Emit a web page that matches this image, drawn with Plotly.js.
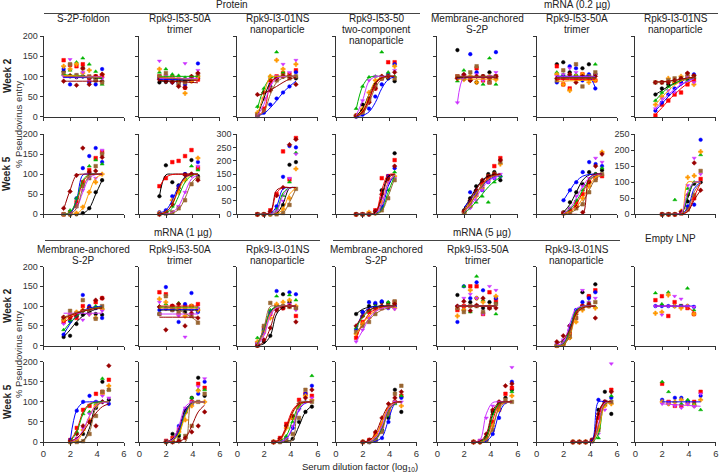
<!DOCTYPE html>
<html><head><meta charset="utf-8">
<script src="https://cdn.plot.ly/plotly-3.0.1.min.js"></script>
<style>html,body{margin:0;padding:0;background:#fff}</style>
</head><body><div id="chart" style="width:720px;height:474px"></div>
<script>
// ---- dilution grids (log10 serum dilution) ----
const D1 = [1.5, 1.98, 2.46, 2.93, 3.41, 3.89, 4.37];
const D2 = [2.0, 2.48, 2.95, 3.43, 3.91, 4.39, 4.87];
const D3 = [2.7, 3.18, 3.65, 4.13, 4.6, 5.08, 5.56];
const D5 = [2.0, 2.45, 2.9, 3.35, 3.8, 4.25, 4.7];

// series order: black, red, blue, green, orange, violet, brown, dark red
const SERIES_COLORS = ['#000000','#ff0000','#0000ff','#00b400','#ff9900','#cc33ff','#996633','#990000'];
const SERIES_SYMBOLS = ['circle','square','circle','triangle-up','cross','triangle-down','square','diamond'];

// ---- Row 1: Week 2 ----
const P_r1c1 = [[112,100,98,100,95,90,88],[140,128,125,130,97,100,100],[118,80,102,100,85,80,118],[105,115,135,145,130,112,80],[125,118,130,108,115,95,105],[100,142,98,110,88,95,95],[108,130,103,120,100,90,85],[88,102,78,120,80,100,105]];
const F_r1c1 = [[98,98,98,97,97,96,95],[100,100,100,100,100,100,100],[97,97,97,97,97,97,97],[104,103,102,101,99,97,95],[102,102,101,100,99,98,97],[99,99,99,99,99,99,99],[100,100,99,99,98,98,97],[88,88,88,88,88,88,88]];
const P_r1c2 = [[85,86,95,85,88,98,95],[100,95,98,92,72,90,92],[95,90,85,85,80,88,132],[110,118,105,102,97,100,100],[118,100,95,88,58,88,100],[138,102,95,78,132,95,115],[100,108,90,80,85,97,105],[92,88,85,75,72,100,108]];
const F_r1c2 = [[88,88,88,89,89,90,90],[96,95,94,93,92,91,90],[92,92,92,92,92,92,92],[100,100,100,100,100,100,100],[98,97,96,95,94,93,92],[95,95,95,95,95,95,95],[97,96,95,94,93,92,91],[90,89,88,87,86,85,84]];
const P_r1c3 = [[5,60,75,95,100,100,95],[2,20,90,100,108,105,115],[2,10,30,45,60,75,110],[25,70,100,160,110,100,100],[10,45,100,140,118,100,130],[3,45,80,100,130,110,140],[5,15,70,90,100,95,100],[55,60,65,95,100,100,80]];
const F_r1c3 = [[3,45,85,97,100,100,100],[2,15,80,98,100,100,100],[2,8,22,40,60,75,88],[20,70,95,100,100,100,100],[5,55,98,100,100,100,100],[3,30,75,95,99,100,100],[2,12,55,85,96,100,100],[52,58,66,75,85,93,98]];
const P_r1c4 = [[3,30,45,80,95,95,88],[2,15,40,70,95,135,135],[0,5,20,50,80,105,130],[20,75,98,100,160,110,100],[3,20,60,90,100,100,125],[2,40,90,100,100,100,115],[2,10,40,75,95,100,95],[2,15,35,70,100,100,110]];
const F_r1c4 = [[2,20,55,85,97,100,100],[1,10,40,80,96,100,100],[0,3,12,35,70,92,99],[18,75,97,100,100,100,100],[2,15,55,88,98,100,100],[3,40,88,99,100,100,100],[1,8,35,72,93,99,100],[1,12,45,82,97,100,100]];
const P_r1c5 = [[165,95,90,85,100,110,95],[100,100,95,120,90,85,100],[95,103,155,110,100,95,160],[88,115,100,100,80,145,80],[95,92,100,85,98,100,92],[35,100,98,105,90,100,110],[100,95,110,125,100,85,100],[95,105,90,100,100,95,100]];
const F_r1c5 = [[97,97,97,97,97,97,97],[100,100,100,100,100,100,100],[95,96,97,98,99,100,100],[99,99,99,99,99,99,99],[93,93,93,93,93,93,93],[35,98,98,98,98,98,98],[100,100,100,100,100,100,100],[98,98,98,98,98,98,98]];
const P_r1c6 = [[130,135,110,100,120,130,105],[125,80,70,95,105,100,90],[85,100,125,120,90,105,70],[110,105,100,105,95,95,130],[105,80,65,100,105,85,90],[100,105,120,110,95,100,105],[90,115,100,130,75,100,110],[95,95,105,85,100,95,100]];
const F_r1c6 = [[100,100,100,100,100,100,100],[92,92,92,92,92,92,92],[100,100,100,100,100,100,72],[97,97,97,97,97,97,97],[88,88,89,89,90,90,90],[99,99,99,99,99,99,99],[95,95,95,95,95,95,95],[96,96,96,96,96,96,96]];
const P_r1c7 = [[55,70,80,85,90,95,95],[3,30,40,55,60,80,90],[15,35,55,70,85,95,105],[40,60,75,85,95,90,100],[30,50,95,85,100,100,80],[20,45,65,60,80,100,85],[85,85,90,95,95,105,100],[85,85,85,90,95,108,102]];
const F_r1c7 = [[55,65,75,83,89,93,96],[5,22,40,55,70,82,92],[15,32,50,65,78,88,95],[40,58,72,82,90,95,98],[30,48,65,78,88,95,98],[20,38,55,68,80,88,94],[85,86,88,90,92,94,96],[86,87,88,90,93,96,98]];

// ---- Row 2: Week 5 ----
const P_r2c1 = [[0,0,0,3,15,55,85],[0,5,30,80,110,140,155],[0,0,40,115,145,165,130],[0,10,40,75,120,135,125],[0,0,3,18,55,80,100],[0,0,25,60,100,90,160],[0,0,20,70,90,120,150],[15,57,97,165,105,108,142]];
const F_r2c1 = [[0,0,0,2,15,50,85],[0,3,28,80,98,100,100],[0,2,35,98,100,100,100],[0,5,35,85,99,100,100],[0,0,2,15,55,90,99],[0,1,15,55,90,99,100],[0,1,15,65,95,100,100],[12,60,97,100,100,100,100]];
const P_r2c2 = [[45,122,80,72,100,135,95],[70,90,130,133,145,160,115],[5,10,45,70,100,100,130],[3,5,20,60,90,120,110],[3,5,35,55,85,100,140],[0,3,5,20,55,95,120],[0,2,5,15,35,75,90],[0,5,25,65,98,100,85]];
const F_r2c2 = [[45,98,100,100,100,100,100],[68,92,99,100,100,100,100],[3,10,35,70,92,99,100],[1,4,15,45,80,96,100],[2,6,25,60,88,98,100],[0,1,5,20,55,88,98],[0,0,3,12,40,78,95],[1,5,25,65,92,99,100]];
const P_r2c3 = [[0,0,0,5,35,185,195],[0,0,15,75,235,130,285],[0,0,5,30,140,255,250],[0,0,3,20,70,120,230],[0,0,0,5,20,60,170],[0,0,3,15,50,135,225],[0,0,0,0,5,35,95],[0,0,10,70,100,260,280]];
const F_r2c3 = [[0,0,0,3,40,97,100],[0,0,5,80,100,100,100],[0,0,2,30,95,100,100],[0,0,1,15,80,99,100],[0,0,0,2,20,75,98],[0,0,1,12,70,98,100],[0,0,0,0,5,45,95],[0,0,8,90,100,100,100]];
const P_r2c4 = [[0,0,0,3,60,85,152],[0,0,2,10,90,95,135],[0,0,0,3,20,95,115],[0,0,0,2,15,60,105],[0,0,5,3,30,80,95],[0,0,0,5,40,80,90],[0,0,0,3,10,40,85],[0,0,0,8,50,88,120]];
const F_r2c4 = [[0,0,0,5,45,95,100],[0,0,0,3,60,98,100],[0,0,0,1,15,70,99],[0,0,0,1,10,55,96],[0,0,0,2,25,80,98],[0,0,0,2,25,78,98],[0,0,0,0,8,45,90],[0,0,0,3,40,90,100]];
const P_r2c5 = [[10,40,70,80,100,105,85],[5,20,55,75,90,120,140],[5,55,60,60,80,90,95],[3,25,30,45,30,80,95],[5,20,45,65,85,100,125],[3,15,35,60,80,90,100],[5,30,50,70,95,100,130],[8,35,60,85,95,100,135]];
const F_r2c5 = [[15,40,65,85,95,99,100],[8,25,50,75,90,97,100],[18,35,55,72,85,93,97],[3,15,32,50,68,82,92],[8,28,52,74,88,96,99],[5,20,42,65,82,92,97],[6,25,50,72,88,96,99],[10,35,62,82,93,98,100]];
const P_r2c6 = [[5,30,55,75,105,100,110],[3,10,30,50,80,90,95],[35,60,80,105,130,125,120],[3,15,35,60,80,100,115],[3,8,20,40,70,95,155],[5,15,45,70,90,140,130],[3,5,15,25,55,85,100],[3,10,20,5,80,120,150]];
const F_r2c6 = [[5,25,55,85,98,100,100],[2,8,25,55,82,96,100],[35,60,82,95,99,100,100],[3,12,32,60,85,97,100],[2,6,18,40,70,92,100],[3,15,40,70,90,98,100],[1,4,12,30,60,88,98],[0,0,0,0,90,100,100]];
const P_r2c7 = [[0,0,0,5,40,95,100],[0,0,0,3,20,50,110],[0,0,0,5,25,30,232],[0,0,45,5,80,100,185],[0,0,0,10,115,120,195],[0,0,0,5,90,175,125],[0,0,0,3,15,60,135],[0,0,0,8,60,160,75]];
const F_r2c7 = [[0,0,0,3,50,98,100],[0,0,0,1,10,55,98],[0,0,0,2,20,80,100],[0,0,0,2,60,100,100],[0,0,0,0,100,100,100],[0,0,0,5,70,100,100],[0,0,0,1,15,70,98],[0,0,0,1,8,45,75]];

// ---- Row 3: Week 2 ----
const P_r3c1 = [[22,25,55,78,85,80,78],[60,75,70,100,95,110,120],[28,62,75,128,100,95,70],[40,65,85,90,95,100,95],[65,80,85,90,80,70,92],[55,78,82,65,78,95,88],[70,88,80,115,85,68,100],[72,70,75,88,95,115,120]];
const F_r3c1 = [[22,40,60,75,85,92,95],[58,70,80,88,93,96,98],[28,55,75,88,95,98,100],[38,58,74,85,92,96,98],[65,75,82,88,92,94,96],[82,82,82,82,82,82,82],[72,78,84,88,92,94,96],[70,76,82,87,91,94,96]];
const P_r3c2 = [[80,95,100,90,85,100,90],[135,130,100,95,100,100,105],[90,148,90,60,105,133,85],[100,105,98,108,95,100,95],[118,110,95,80,75,100,90],[110,92,95,75,22,88,95],[80,125,90,85,95,75,58],[98,40,100,105,50,82,70]];
const F_r3c2 = [[90,90,90,90,90,90,90],[100,100,100,100,100,100,100],[92,92,92,92,92,92,92],[97,97,97,97,97,97,97],[95,95,95,95,95,95,95],[80,80,80,80,80,80,80],[100,98,95,90,82,72,60],[72,72,72,72,72,72,72]];
const P_r3c3 = [[0,10,25,100,130,110,95],[5,45,80,100,95,100,75],[5,40,85,138,100,135,130],[20,40,90,125,100,128,115],[10,35,70,105,110,115,100],[5,30,80,95,100,105,90],[0,50,108,95,100,98,95],[0,15,45,90,95,100,60]];
const F_r3c3 = [[0,5,25,80,97,100,100],[3,40,85,98,100,100,100],[2,35,85,99,100,100,100],[5,42,88,99,100,100,100],[2,30,80,97,100,100,100],[1,25,75,96,100,100,100],[0,45,99,100,100,100,100],[0,10,45,90,99,100,100]];
const P_r3c4 = [[80,85,100,105,110,108,100],[20,60,85,95,95,100,110],[40,85,110,108,112,95,100],[45,75,90,100,100,110,108],[30,55,70,90,100,100,95],[10,40,70,90,95,95,92],[35,50,60,80,95,100,112],[50,75,90,95,100,98,105]];
const F_r3c4 = [[80,92,97,99,100,100,100],[20,55,80,92,97,99,100],[40,80,95,99,100,100,100],[45,72,88,96,99,100,100],[30,55,75,88,95,98,100],[10,38,68,86,94,98,99],[35,50,66,80,90,95,98],[50,75,90,96,99,100,100]];
const P_r3c5 = [[128,90,110,120,95,110,108],[90,100,150,150,80,135,115],[60,150,120,160,140,95,120],[100,150,85,175,115,100,80],[75,90,140,120,110,100,125],[100,120,130,120,80,150,140],[95,85,100,100,85,95,105],[100,112,88,102,120,95,95]];
const F_r3c5 = [[100,100,100,100,100,100,100],[100,100,100,100,100,100,100],[100,100,100,100,100,100,100],[100,100,100,100,100,100,100],[99,99,99,99,99,99,99],[100,100,100,100,100,100,100],[100,100,100,100,100,100,100],[100,100,100,100,100,100,100]];
const P_r3c6 = [[0,5,20,85,135,125,155],[0,5,30,70,100,125,140],[3,10,50,90,110,120,135],[2,8,40,80,100,110,98],[0,3,20,60,90,100,95],[5,15,40,85,140,110,120],[0,5,25,70,95,100,110],[10,25,50,80,100,105,70]];
const F_r3c6 = [[0,2,25,85,99,100,100],[0,3,35,85,98,100,100],[1,5,45,90,99,100,100],[0,4,40,88,99,100,100],[0,2,25,75,95,99,100],[2,8,55,93,100,100,100],[0,3,30,80,97,100,100],[5,15,40,80,95,99,100]];
const P_r3c7 = [null,[115,125,75,110,100,95,80],[100,100,100,100,100,100,98],[133,105,135,100,100,145,90],[82,85,128,100,95,100,80],[100,78,100,125,118,100,98],null,null];
const F_r3c7 = [null,[100,100,100,100,99,97,85],[100,100,100,100,100,100,100],null,null,[100,100,100,100,100,100,98],null,null];

// ---- Row 4: Week 5 ----
const P_r4c1 = [[0,3,20,50,85,150,105],[5,35,80,90,120,125,155],[5,78,100,115,100,100,95],[3,25,70,75,95,158,130],[0,5,30,55,90,120,140],[3,10,35,70,100,115,110],[0,0,2,20,65,125,130],[3,20,40,50,40,100,190]];
const F_r4c1 = [[0,0,3,35,90,100,100],[3,30,75,95,99,100,100],[5,80,98,100,100,100,100],[2,25,70,93,99,100,100],[0,3,25,65,92,99,100],[1,8,30,65,90,98,100],[0,0,2,25,85,100,100],[2,10,25,50,72,88,95]];
const P_r4c2 = [[0,20,15,75,110,160,115],[3,10,30,75,100,145,135],[2,5,40,80,95,120,150],[0,3,20,75,110,130,130],[0,5,25,55,90,128,100],[0,5,35,85,100,138,158],[0,0,5,15,40,100,120],[0,0,2,10,25,40,75]];
const F_r4c2 = [[0,8,35,80,97,100,100],[0,5,30,75,96,100,100],[0,4,28,75,96,100,100],[0,3,22,70,95,100,100],[0,3,20,65,94,99,100],[0,6,40,88,99,100,100],[0,0,0,0,100,100,100],[0,0,2,10,40,75,92]];
const P_r4c3 = [[0,0,3,8,50,75,88],[0,10,45,60,105,120,115],[0,3,10,35,90,120,140],[0,3,15,50,85,100,165],[0,5,35,60,90,115,105],[0,0,8,40,80,100,110],[0,0,5,20,60,130,100],[0,8,40,65,95,110,130]];
const F_r4c3 = [[0,0,1,8,40,75,90],[0,8,40,80,96,100,100],[0,1,8,35,80,97,100],[0,2,15,55,90,99,100],[0,5,30,72,94,99,100],[0,1,8,38,82,98,100],[0,0,0,5,100,100,100],[0,6,35,75,95,99,100]];
const P_r4c4 = [[0,0,5,30,60,130,75],[0,5,20,40,80,100,115],[0,0,3,10,50,100,110],[0,3,10,30,65,95,115],[0,3,15,45,80,100,90],[0,2,10,35,70,100,100],[0,0,5,25,70,120,140],[0,5,25,60,95,110,125]];
const F_r4c4 = [[0,1,8,35,80,97,100],[0,3,15,50,85,98,100],[0,0,2,12,55,95,100],[0,1,8,35,78,96,100],[0,2,15,50,85,98,100],[0,1,10,40,82,97,100],[0,0,5,30,75,96,100],[0,4,22,60,90,99,100]];
const P_r4c5 = [[0,0,5,75,95,110,130],[0,2,10,50,80,120,135],[0,0,3,20,60,100,150],[0,3,15,70,90,100,125],[0,0,5,40,80,100,115],[0,5,60,90,100,100,186],[0,0,5,30,90,105,100],[0,0,20,80,100,140,145]];
const F_r4c5 = [[0,1,15,70,96,100,100],[0,1,10,55,92,99,100],[0,0,2,20,70,97,100],[0,1,12,65,95,100,100],[0,0,5,40,85,99,100],[0,5,70,98,100,100,100],[0,0,5,35,85,99,100],[0,2,20,78,98,100,100]];
const P_r4c6 = [[0,0,0,3,80,125,70],[0,0,0,5,60,100,130],[0,0,0,5,105,100,110],[0,0,0,0,10,95,115],[0,0,0,3,35,90,95],[0,0,0,0,20,80,195],[0,0,0,3,30,95,100],[0,0,0,5,70,100,125]];
const F_r4c6 = [[0,0,0,2,70,100,100],[0,0,0,1,60,99,100],[0,0,0,5,100,100,100],[0,0,0,0,20,95,100],[0,0,0,1,30,90,99],[0,0,0,1,45,97,100],[0,0,0,1,40,95,100],[0,0,0,2,75,100,100]];
const P_r4c7 = [null,[145,100,90,90,100,100,125],[105,95,110,110,100,90,115],[150,125,100,95,105,95,80],[100,95,100,105,95,90,105],[95,100,90,85,95,88,120],null,null];
const F_r4c7 = [null,null,[100,100,100,100,100,100,100],null,null,[95,94,93,92,91,90,89],null,null];

// ---- text ----
const PANEL_TITLES = [
  ['S-2P-foldon'],['Rpk9-I53-50A','trimer'],['Rpk9-I3-01NS','nanoparticle'],['Rpk9-I53-50','two-component','nanoparticle'],
  ['Membrane-anchored','S-2P'],['Rpk9-I53-50A','trimer'],['Rpk9-I3-01NS','nanoparticle'],
  ['Membrane-anchored','S-2P'],['Rpk9-I53-50A','trimer'],['Rpk9-I3-01NS','nanoparticle'],
  ['Membrane-anchored','S-2P'],['Rpk9-I53-50A','trimer'],['Rpk9-I3-01NS','nanoparticle'],[]
];
const X_TICKS = [0,2,4,6];
const Y_LABEL = '% Pseudovirus entry';
const X_LABEL = 'Serum dilution factor (log<sub>10</sub>)';

const panels = [
  {x:D1,p:P_r1c1,f:F_r1c1,ymax:200},{x:D1,p:P_r1c2,f:F_r1c2,ymax:200},{x:D1,p:P_r1c3,f:F_r1c3,ymax:200},{x:D1,p:P_r1c4,f:F_r1c4,ymax:200},
  {x:D1,p:P_r1c5,f:F_r1c5,ymax:200},{x:D1,p:P_r1c6,f:F_r1c6,ymax:200},{x:D1,p:P_r1c7,f:F_r1c7,ymax:200},
  {x:D1,p:P_r2c1,f:F_r2c1,ymax:200},{x:D1,p:P_r2c2,f:F_r2c2,ymax:200},{x:D1,p:P_r2c3,f:F_r2c3,ymax:300},{x:D1,p:P_r2c4,f:F_r2c4,ymax:200},
  {x:D5,p:P_r2c5,f:F_r2c5,ymax:200},{x:D2,p:P_r2c6,f:F_r2c6,ymax:200},{x:D2,p:P_r2c7,f:F_r2c7,ymax:250},
  {x:D1,p:P_r3c1,f:F_r3c1,ymax:200},{x:D1,p:P_r3c2,f:F_r3c2,ymax:200},{x:D1,p:P_r3c3,f:F_r3c3,ymax:200},{x:D1,p:P_r3c4,f:F_r3c4,ymax:200},
  {x:D1,p:P_r3c5,f:F_r3c5,ymax:200},{x:D1,p:P_r3c6,f:F_r3c6,ymax:200},{x:D1,p:P_r3c7,f:F_r3c7,ymax:200},
  {x:D2,p:P_r4c1,f:F_r4c1,ymax:200},{x:D2,p:P_r4c2,f:F_r4c2,ymax:200},{x:D3,p:P_r4c3,f:F_r4c3,ymax:200},{x:D2,p:P_r4c4,f:F_r4c4,ymax:200},
  {x:D3,p:P_r4c5,f:F_r4c5,ymax:200},{x:D3,p:P_r4c6,f:F_r4c6,ymax:200},{x:D2,p:P_r4c7,f:F_r4c7,ymax:200}
];

// ---- layout geometry (pixels) ----
const W = 720, H = 474, PW = 80.5;
const colX = [43.5, 139.3, 237.3, 336, 437.3, 536.7, 635.3];
const rowY = [[36,116.7],[134,214.3],[266.5,345.7],[361.7,442]];
const px = v => v / W, py = v => 1 - v / H;
const AX = '#333333';
const FONT = 'Liberation Sans, Arial, Helvetica, sans-serif';

const traces = [];
const layout = {
  width: W, height: H, margin: {l:0, r:0, t:0, b:0},
  showlegend: false, paper_bgcolor: '#fff', plot_bgcolor: '#fff',
  font: {family: FONT, size: 10, color: '#222'},
  annotations: [], shapes: []
};

panels.forEach((pn, i) => {
  const r = Math.floor(i / 7), c = i % 7, id = i + 1;
  const sfx = id === 1 ? '' : String(id);
  layout['xaxis' + sfx] = {
    domain: [px(colX[c]), px(colX[c] + PW)], anchor: 'y' + sfx, range: [0, 6],
    tickvals: X_TICKS, showticklabels: r === 3, ticks: 'outside', ticklen: 3, tickwidth: 1, tickcolor: AX,
    showline: true, linecolor: AX, linewidth: 1, showgrid: false, zeroline: false,
    tickfont: {size: 9.5, color: '#333'}, fixedrange: true
  };
  layout['yaxis' + sfx] = {
    domain: [py(rowY[r][1]), py(rowY[r][0])], anchor: 'x' + sfx, range: [0, pn.ymax],
    dtick: 50, showticklabels: c === 0 || pn.ymax !== 200, ticks: 'outside', ticklen: 3, tickwidth: 1, tickcolor: AX,
    showline: true, linecolor: AX, linewidth: 1, showgrid: false, zeroline: false,
    tickfont: {size: 9, color: '#333'}, fixedrange: true
  };
  pn.p.forEach((ys, k) => {
    if (!ys) return;
    traces.push({x: pn.x, y: ys, xaxis: 'x' + sfx, yaxis: 'y' + sfx, type: 'scatter', mode: 'markers',
      cliponaxis: false, hoverinfo: 'skip',
      marker: {color: SERIES_COLORS[k], symbol: SERIES_SYMBOLS[k], size: 3.6, line: {width: 0.5, color: SERIES_COLORS[k]}}});
  });
  pn.f.forEach((ys, k) => {
    if (!ys) return;
    traces.push({x: pn.x, y: ys, xaxis: 'x' + sfx, yaxis: 'y' + sfx, type: 'scatter', mode: 'lines',
      cliponaxis: false, hoverinfo: 'skip',
      line: {color: SERIES_COLORS[k], width: 1, shape: 'spline', smoothing: 1}});
  });
});

// panel titles
const ann = (x, y, text, opts) => layout.annotations.push(Object.assign({
  x: px(x), y: py(y), xref: 'paper', yref: 'paper', text: text, showarrow: false,
  xanchor: 'center', yanchor: 'middle', font: {size: 10, color: '#222', family: FONT}
}, opts || {}));

PANEL_TITLES.forEach((lines, j) => {
  if (!lines.length) return;
  const c = j % 7;
  const baseY = j < 7 ? 18.5 : 249.5;
  lines.forEach((t, li) => ann(colX[c] + PW / 2, baseY + li * 11, t));
});

// group headers
ann(232, 5, 'Protein');
ann(577, 5, 'mRNA (0.2 µg)');
ann(183, 232, 'mRNA (1 µg)');
ann(482, 232, 'mRNA (5 µg)');
ann(670, 239, 'Empty LNP');
const hline = (x0, x1, y) => layout.shapes.push({type: 'line', xref: 'paper', yref: 'paper',
  x0: px(x0), x1: px(x1), y0: py(y), y1: py(y), line: {color: '#444', width: 1}});
hline(44, 420, 13.5);
hline(432, 718, 13.5);
hline(45, 320, 240.5);
hline(333, 620, 240.5);

// side labels
[[76, 'Week 2'], [174, 'Week 5'], [306, 'Week 2'], [402, 'Week 5']].forEach(([y, t]) =>
  ann(7, y, '<b>' + t + '</b>', {textangle: -90, font: {size: 10, color: '#222', family: FONT}}));
[125, 355].forEach(y => ann(18, y, Y_LABEL, {textangle: -90, font: {size: 9.5, color: '#333', family: FONT}}));
ann(360, 467, X_LABEL, {font: {size: 9.5, color: '#222', family: FONT}});

Plotly.newPlot('chart', traces, layout, {displayModeBar: false, staticPlot: true});
</script>
</body></html>
